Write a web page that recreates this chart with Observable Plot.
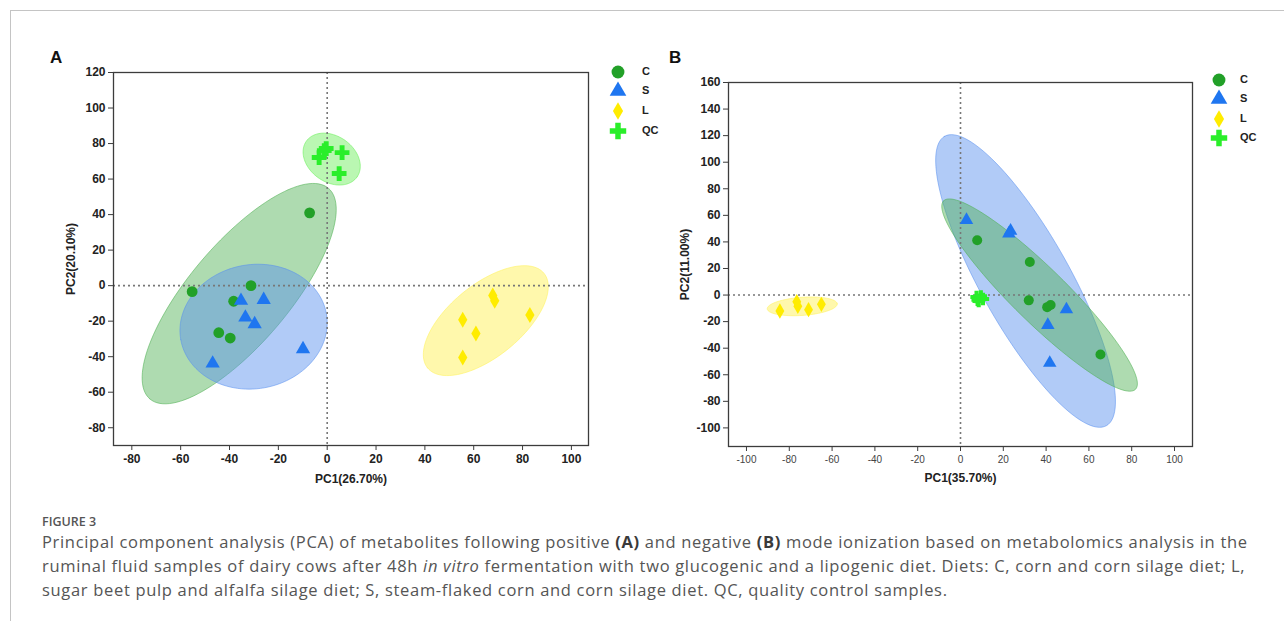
<!DOCTYPE html>
<html>
<head>
<meta charset="utf-8">
<script src="https://cdn.jsdelivr.net/npm/d3@7"></script>
<script src="https://cdn.jsdelivr.net/npm/@observablehq/plot@0.6"></script>
<style>
  body { margin: 0; background: #fff; width: 1284px; height: 621px; overflow: hidden; position: relative;
         font-family: "Liberation Sans", Arial, sans-serif; }
  #frame { position: absolute; left: 10px; top: 10px; right: 0; bottom: 0;
           border-top: 1px solid #c4c4c4; border-left: 1px solid #c4c4c4; }
  .abs { position: absolute; }
  .plot { position: absolute; top: 0; }
  .letter { position: absolute; font: bold 17px "Liberation Sans", Arial, sans-serif; color: #111; }
  .leg { position: absolute; font: bold 11px "Liberation Sans", Arial, sans-serif; color: #222; line-height: 1; }
  .fig { position: absolute; font: 600 12.5px "Open Sans", sans-serif; color: #555; }
  .cap { position: absolute; left: 42px; top: 530px; font: 16.5px "Open Sans", sans-serif; color: #555;
         line-height: 24px; white-space: nowrap; letter-spacing: 0.68px; }
  .cap b { font-weight: 700; color: #3a3a3a; }
</style>
</head>
<body>
<div id="frame"></div>
<div id="root"></div>
<script>
// ---------- data ----------
const groups = ["C", "S", "L", "QC"];

// Panel A (positive mode) scores [PC1, PC2]
const aC  = [[-7.2, 41], [-55.3, -3.4], [-31.2, 0], [-38.3, -8.8], [-44.4, -26.5], [-39.7, -29.5]];
const aS  = [[-35.3, -8.5], [-26, -8], [-33.5, -17.9], [-29.7, -21.6], [-9.9, -35.7], [-46.9, -43.8]];
const aL  = [[67.8, -5.5], [68.6, -8.5], [55.5, -19.2], [60.9, -26.9], [83, -16.5], [55.5, -40.4]];
const aQC = [[-3.3, 72.1], [-1.2, 76], [-0.4, 77.2], [6.1, 74.9], [4.9, 63.1]];

// Panel B (negative mode) scores [PC1, PC2]
const bC  = [[7.8, 41.3], [32.4, 24.9], [31.9, -4], [40.5, -9.1], [42.1, -7.5], [65.4, -44.8]];
const bS  = [[2.8, 56.4], [23.4, 48.3], [22.6, 46.3], [49.5, -10.8], [40.8, -22.6], [41.7, -51.1]];
const bL  = [[-84.4, -12], [-76.5, -5], [-76, -8.5], [-71, -11], [-65, -7]];
const bQC = [[7.5, -1.5], [9.5, -1], [8, -3.5], [10.5, -3], [8.5, -4.5]];

// Confidence ellipses, read as axis end points: [major x1,y1,x2,y2, minor x3,y3,x4,y4]
const aEllC  = [0.53, 54.8, -72.6, -63.8, -20.45, -22.8, -51.6, 13.7];
const aEllS  = [-0.33, -15.8, -59.96, -30.4, -25.7, -57.5, -34.6, 11.3];
const aEllL  = [88.8, 6.9, 41.1, -46.3, 74.2, -35.5, 55.7, -3.9];
const aEllQC = [-8.55, 81.3, 12.23, 61.2, -3.56, 60.7, 7.24, 81.9];
const bEllC  = [81.8, -70.9, -7.9, 70.9, 28.1, -14.6, 45.7, 14.6];
const bEllS  = [68.2, -98.3, -7.4, 119.5, 12.1, -6.0, 48.7, 27.2];
const bEllL  = [-90.3, -10.4, -57.6, -6.6, -73.7, -15.3, -74.3, -1.7];

// Ticks and labels
const aXTicks = [-80, -60, -40, -20, 0, 20, 40, 60, 80, 100];
const aYTicks = [-80, -60, -40, -20, 0, 20, 40, 60, 80, 100, 120];
const bXTicks = [-100, -80, -60, -40, -20, 0, 20, 40, 60, 80, 100];
const bYTicks = [-100, -80, -60, -40, -20, 0, 20, 40, 60, 80, 100, 120, 140, 160];
const aXLabel = "PC1(26.70%)", aYLabel = "PC2(20.10%)";
const bXLabel = "PC1(35.70%)", bYLabel = "PC2(11.00%)";
const captionTitle = "FIGURE 3";

// ---------- styles ----------
const dotColor  = {C: "#22a028", S: "#1f76f0", L: "#ffec00", QC: "#2aee2a"};
const ellFill   = {C: "#4caf50", S: "#5a90ee", L: "#fff25a", QC: "#66ee55"};
const ellOpac   = {C: 0.45, S: 0.47, L: 0.5, QC: 0.45};
const tallDiamond = {
  draw(ctx, size) {
    const h = Math.sqrt(size) * 0.9, w = h * 0.58;
    ctx.moveTo(0, -h); ctx.lineTo(w, 0); ctx.lineTo(0, h); ctx.lineTo(-w, 0); ctx.closePath();
  }
};
const symbolOf = {C: "circle", S: "triangle", L: tallDiamond, QC: "cross"};
const d3SymbolOf = {C: d3.symbolCircle, S: d3.symbolTriangle, L: tallDiamond, QC: d3.symbolCross};

function ellipse(e, g) {
  const [x1, y1, x2, y2, x3, y3, x4, y4] = e;
  const cx = (x1 + x2) / 2, cy = (y1 + y2) / 2;
  const ux = (x2 - x1) / 2, uy = (y2 - y1) / 2, vx = (x4 - x3) / 2, vy = (y4 - y3) / 2;
  return d3.range(0, 121).map(i => {
    const t = i / 120 * 2 * Math.PI;
    return {g, x: cx + ux * Math.cos(t) + vx * Math.sin(t), y: cy + uy * Math.cos(t) + vy * Math.sin(t)};
  });
}
const rows = pts => pts.map(([x, y]) => ({x, y}));

function panel(o) {
  return Plot.plot({
    width: o.width, height: o.height,
    marginLeft: o.ml, marginRight: o.mr, marginTop: o.mt, marginBottom: o.mb,
    x: {domain: o.xDomain}, y: {domain: o.yDomain},
    style: {fontFamily: "Liberation Sans, Arial, sans-serif", fontSize: "12px", fontWeight: "bold",
            color: "#222", background: "transparent", overflow: "visible", maxWidth: "none"},
    marks: [
      ...o.ellOrder.map(g => Plot.line(ellipse(o.ell[g], g), {
        x: "x", y: "y", fill: ellFill[g], fillOpacity: ellOpac[g],
        stroke: ellFill[g], strokeOpacity: 0.55, strokeWidth: 1
      })),
      Plot.ruleX([0], {stroke: "#777", strokeWidth: 1.6, strokeDasharray: "2,3"}),
      Plot.ruleY([0], {stroke: "#777", strokeWidth: 1.6, strokeDasharray: "2,3"}),
      ...groups.map(g => Plot.dot(rows(o.pts[g]), {
        x: "x", y: "y", symbol: symbolOf[g], fill: dotColor[g], stroke: "none", r: o.r[g]
      })),
      Plot.frame({stroke: "#3c3c3c", strokeWidth: 1.3}),
      Plot.axisX({ticks: o.xTicks, tickFormat: d => String(d), tickSize: 5, tickPadding: 4,
                  fontSize: o.xTickFont, fontWeight: o.xTickWeight, fill: o.xTickColor, stroke: "#3c3c3c",
                  label: null}),
      Plot.text([o.xLabel], {text: d => d, frameAnchor: "bottom", dy: o.xLabelDy, lineAnchor: "middle",
                  fontSize: 12, fontWeight: "bold", fill: "#222"}),
      Plot.axisY({ticks: o.yTicks, tickFormat: d => String(d), tickSize: 5, tickPadding: 3,
                  fontSize: 12, stroke: "#3c3c3c",
                  label: o.yLabel, labelAnchor: "center", labelArrow: "none", labelOffset: o.yLabelOffset})
    ]
  });
}

const root = document.getElementById("root");

const plotA = panel({
  width: 640, height: 500, ml: 113, mr: 52, mt: 72, mb: 55,
  xDomain: [-87.5, 107], yDomain: [-90, 120],
  xTicks: aXTicks, yTicks: aYTicks, xTickFont: 12, xTickWeight: "bold", xTickColor: "#222",
  xLabel: aXLabel, yLabel: aYLabel, xLabelDy: 34, yLabelOffset: 47,
  ellOrder: ["QC", "C", "S", "L"],
  ell: {C: aEllC, S: aEllS, L: aEllL, QC: aEllQC},
  pts: {C: aC, S: aS, L: aL, QC: aQC},
  r: {C: 5.4, S: 5.3, L: 5, QC: 6.2}
});
plotA.classList.add("plot"); plotA.style.left = "0px";
root.appendChild(plotA);

const plotB = panel({
  width: 600, height: 500, ml: 88, mr: 48, mt: 82, mb: 54,
  xDomain: [-108.4, 108.4], yDomain: [-114, 160],
  xTicks: bXTicks, yTicks: bYTicks, xTickFont: 10, xTickWeight: "normal", xTickColor: "#444",
  xLabel: bXLabel, yLabel: bYLabel, xLabelDy: 32, yLabelOffset: 48,
  ellOrder: ["L", "S", "C"],
  ell: {C: bEllC, S: bEllS, L: bEllL},
  pts: {C: bC, S: bS, L: bL, QC: bQC},
  r: {C: 5, S: 5, L: 4.8, QC: 5.2}
});
plotB.classList.add("plot"); plotB.style.left = "640px";
root.appendChild(plotB);

// panel letters
function addText(cls, txt, x, y) {
  const d = document.createElement("div"); d.className = cls; d.textContent = txt;
  d.style.left = x + "px"; d.style.top = y + "px"; root.appendChild(d); return d;
}
addText("letter", "A", 50, 48);
addText("letter", "B", 669, 48);

// legends
function legend(x, ys, textX) {
  groups.forEach((g, i) => {
    const svg = d3.select(root).append("svg").attr("class", "abs")
      .attr("width", 24).attr("height", 24)
      .style("left", (x - 12) + "px").style("top", (ys[i] - 12) + "px");
    const size = {C: 130, S: 120, L: 95, QC: 150}[g];
    svg.append("path").attr("transform", "translate(12,12)")
      .attr("d", d3.symbol(d3SymbolOf[g], size)()).attr("fill", dotColor[g]);
    addText("leg", g, textX, ys[i] - 6);
  });
}
legend(618, [72, 91, 111, 131], 642);
legend(1219, [80, 99, 119, 138], 1240);

// caption
addText("fig", captionTitle, 42, 513);
const cap = document.createElement("div"); cap.className = "cap";
cap.innerHTML = "Principal component analysis (PCA) of metabolites following positive <b>(A)</b> and negative <b>(B)</b> mode ionization based on metabolomics analysis in the<br>" +
  "ruminal fluid samples of dairy cows after 48h <i>in vitro</i> fermentation with two glucogenic and a lipogenic diet. Diets: C, corn and corn silage diet; L,<br>" +
  "sugar beet pulp and alfalfa silage diet; S, steam-flaked corn and corn silage diet. QC, quality control samples.";
root.appendChild(cap);
</script>
</body>
</html>
